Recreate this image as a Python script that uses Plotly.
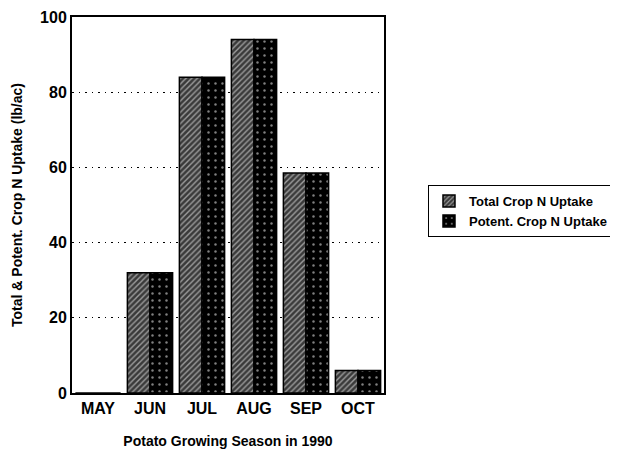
import plotly.graph_objects as go

months = ["MAY", "JUN", "JUL", "AUG", "SEP", "OCT"]
total_uptake = [0, 32, 84, 94, 58.5, 6]
potent_uptake = [0, 32, 84, 94, 58.5, 6]
y_ticks = [0, 20, 40, 60, 80, 100]

FONT = "Liberation Sans, Arial, sans-serif"

fig = go.Figure()
fig.add_trace(go.Bar(
    x=months, y=total_uptake, name="<b>Total Crop N Uptake</b>",
    marker=dict(color="#3a3a3a", line=dict(color="black", width=1.5),
                pattern=dict(shape="/", fgcolor="white", size=4, solidity=0.35)),
))
fig.add_trace(go.Bar(
    x=months, y=potent_uptake, name="<b>Potent. Crop N Uptake</b>",
    marker=dict(color="black", line=dict(color="black", width=1.5),
                pattern=dict(shape=".", fgcolor="white", size=7, solidity=0.1)),
))

fig.update_layout(
    width=618, height=453,
    margin=dict(l=64, r=242, t=9, b=68),
    paper_bgcolor="white", plot_bgcolor="white",
    barmode="group", bargap=0.13, bargroupgap=0,
    font=dict(family=FONT, color="black"),
    showlegend=True,
    legend=dict(x=1.141, y=0.553, xanchor="left", yanchor="top",
                bgcolor="white", bordercolor="black", borderwidth=1,
                font=dict(size=13, family=FONT), tracegroupgap=0,
                itemwidth=30),
    xaxis=dict(
        automargin=False,
        showline=True, linecolor="black", linewidth=2, mirror=True,
        ticks="", tickfont=dict(size=16, family=FONT),
        tickvals=months, ticktext=[f"<b>{m}</b>" for m in months],
        title=dict(text="<b>Potato Growing Season in 1990</b>",
                   font=dict(size=14, family=FONT), standoff=20),
    ),
    yaxis=dict(
        automargin=False,
        range=[0, 100], tickvals=y_ticks,
        ticktext=[f"<b>{v}</b>" for v in y_ticks],
        showline=True, linecolor="black", linewidth=2, mirror=True,
        ticks="", tickfont=dict(size=16, family=FONT),
        showgrid=True, gridcolor="black", griddash="1.5px,5px", gridwidth=1.2,
        zeroline=False,
        title=dict(text="<b>Total & Potent. Crop N Uptake (lb/ac)</b>",
                   font=dict(size=14, family=FONT), standoff=14),
    ),
)

fig.write_html("out.html")
